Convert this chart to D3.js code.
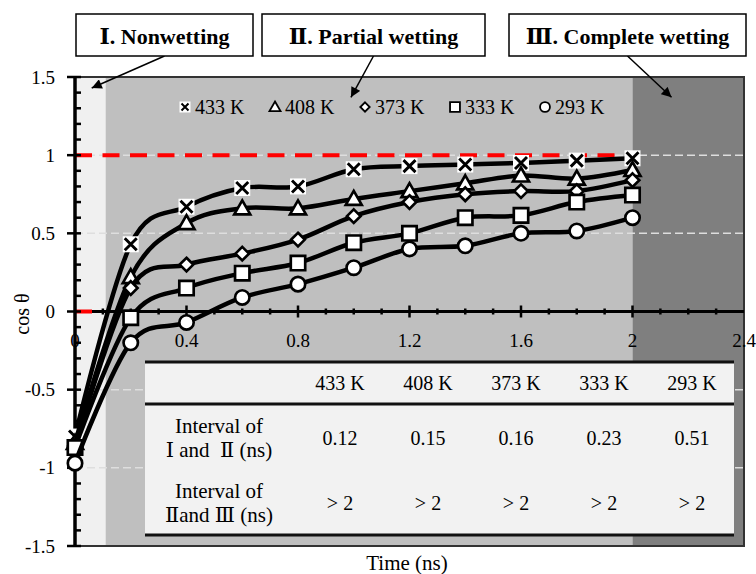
<!DOCTYPE html>
<html>
<head>
<meta charset="utf-8">
<script src="https://cdn.jsdelivr.net/npm/d3@7"></script>
<style>
body { margin: 0; background: #fff; }
text { font-family: "Liberation Serif", "DejaVu Serif", serif; }
</style>
</head>
<body>
<script>
// data
var times = [0, 0.2, 0.4, 0.6, 0.8, 1.0, 1.2, 1.4, 1.6, 1.8, 2.0];
var k433 = [-0.80, 0.43, 0.67, 0.79, 0.80, 0.91, 0.93, 0.94, 0.95, 0.965, 0.98];
var k408 = [-0.84, 0.22, 0.565, 0.66, 0.66, 0.72, 0.77, 0.82, 0.87, 0.85, 0.905];
var k373 = [-0.86, 0.15, 0.30, 0.37, 0.46, 0.61, 0.70, 0.75, 0.77, 0.77, 0.84];
var k333 = [-0.87, -0.04, 0.15, 0.245, 0.31, 0.44, 0.50, 0.60, 0.615, 0.70, 0.745];
var k293 = [-0.97, -0.20, -0.07, 0.09, 0.175, 0.28, 0.40, 0.42, 0.50, 0.515, 0.60];

var seriesNames = ["433 K", "408 K", "373 K", "333 K", "293 K"];
var seriesShapes = ["x", "triangle", "diamond", "square", "circle"];
var seriesValues = [k433, k408, k373, k333, k293];

var xTicks = [0, 0.4, 0.8, 1.2, 1.6, 2, 2.4];
var yTicks = [-1.5, -1, -0.5, 0, 0.5, 1, 1.5];
var gridVals = [-1, -0.5, 0.5, 1];

var zoneEdges = [0, 0.11, 2, 2.4];
var zoneColors = ["#f0f0f0", "#bfbfbf", "#7f7f7f"];
var zoneNames = ["\u2160. Nonwetting", "\u2161. Partial wetting", "\u2162. Complete wetting"];
var arrowTips = [[0.06, 1.43], [0.99, 1.37], [2.14, 1.37]];

var refLines = [[0, 2, 1], [0, 0.065, 0]];

var tableRowLabels = [["Interval of", "\u2160 and  \u2161 (ns)"], ["Interval of", "\u2161and \u2162 (ns)"]];
var intervalOneTwo = ["0.12", "0.15", "0.16", "0.23", "0.51"];
var intervalTwoThree = ["> 2", "> 2", "> 2", "> 2", "> 2"];

var W = 756, H = 574;
var svg = d3.select("body").append("svg").attr("width", W).attr("height", H);

var x = d3.scaleLinear().domain([0, 2.4]).range([75, 744]);
var y = d3.scaleLinear().domain([-1.5, 1.5]).range([546, 77]);

// arrow head
svg.append("defs").append("marker")
    .attr("id", "head")
    .attr("viewBox", "0 0 10 10")
    .attr("refX", 10).attr("refY", 5)
    .attr("markerWidth", 11).attr("markerHeight", 10)
    .attr("markerUnits", "userSpaceOnUse")
    .attr("orient", "auto")
    .append("path").attr("d", "M0,0L10,5L0,10Z").attr("fill", "#000");

// background zones
svg.selectAll("rect.zone")
    .data(zoneColors)
    .enter()
    .append("rect")
    .attr("class", "zone")
    .attr("x", function(d, i) { return x(zoneEdges[i]); })
    .attr("width", function(d, i) { return x(zoneEdges[i + 1]) - x(zoneEdges[i]); })
    .attr("y", y(1.5))
    .attr("height", y(-1.5) - y(1.5))
    .attr("fill", function(d) { return d; });

// grid
svg.selectAll("line.grid")
    .data(gridVals)
    .enter()
    .append("line")
    .attr("x1", x(0)).attr("x2", x(2.4))
    .attr("y1", function(d) { return y(d); })
    .attr("y2", function(d) { return y(d); })
    .attr("stroke", "#dedede")
    .attr("stroke-width", 1.5)
    .attr("stroke-dasharray", "8,4");

// plot border
svg.append("rect")
    .attr("x", x(0)).attr("y", y(1.5))
    .attr("width", x(2.4) - x(0)).attr("height", y(-1.5) - y(1.5))
    .attr("fill", "none")
    .attr("stroke", "#333")
    .attr("stroke-width", 2);

// table
var tbl = svg.append("g");
var tblLeft = 145, tblRight = 734, tblTop = 362, tblHead = 404, tblBottom = 535;
var colX = [219, 340, 428, 516, 604, 692];
tbl.append("rect")
    .attr("x", tblLeft).attr("y", tblTop)
    .attr("width", tblRight - tblLeft).attr("height", tblBottom - tblTop)
    .attr("fill", "#f2f2f2");
[tblTop, tblHead, tblBottom].forEach(function(yy) {
    tbl.append("line")
        .attr("x1", tblLeft).attr("x2", tblRight)
        .attr("y1", yy).attr("y2", yy)
        .attr("stroke", "#111").attr("stroke-width", 3);
});
tbl.selectAll("text.head")
    .data(seriesNames)
    .enter()
    .append("text")
    .attr("x", function(d, i) { return colX[i + 1]; })
    .attr("y", 383)
    .attr("dy", "0.35em")
    .attr("text-anchor", "middle")
    .attr("font-size", 20)
    .text(function(d) { return d; });
[intervalOneTwo, intervalTwoThree].forEach(function(row, r) {
    var cy = r == 0 ? 438 : 503;
    tbl.append("text")
        .attr("x", colX[0]).attr("y", cy - 12).attr("dy", "0.35em")
        .attr("text-anchor", "middle").attr("font-size", 21)
        .text(tableRowLabels[r][0]);
    tbl.append("text")
        .attr("x", colX[0]).attr("y", cy + 12).attr("dy", "0.35em")
        .attr("text-anchor", "middle").attr("font-size", 21)
        .attr("xml:space", "preserve")
        .text(tableRowLabels[r][1]);
    tbl.selectAll("text.v" + r)
        .data(row)
        .enter()
        .append("text")
        .attr("x", function(d, i) { return colX[i + 1]; })
        .attr("y", cy)
        .attr("dy", "0.35em")
        .attr("text-anchor", "middle")
        .attr("font-size", 20)
        .text(function(d) { return d; });
});

// x axis at y = 0
var xAxis = svg.append("g").attr("transform", "translate(0," + y(0) + ")");
xAxis.append("line").attr("x1", x(0)).attr("x2", x(2.4)).attr("stroke", "#000").attr("stroke-width", 3);
xAxis.selectAll("line.minor")
    .data(d3.range(1, 24).map(function(i) { return i / 10; }))
    .enter()
    .append("line")
    .attr("x1", function(d) { return x(d); })
    .attr("x2", function(d) { return x(d); })
    .attr("y1", function(d) { return Math.round(d * 10) % 4 == 0 ? -6 : -3; })
    .attr("y2", function(d) { return Math.round(d * 10) % 4 == 0 ? 6 : 3; })
    .attr("stroke", "#000").attr("stroke-width", 2.5);
xAxis.selectAll("text")
    .data(xTicks)
    .enter()
    .append("text")
    .attr("x", function(d) { return x(d); })
    .attr("y", 22)
    .attr("dy", "0.71em")
    .attr("text-anchor", "middle")
    .attr("font-size", 19)
    .text(function(d) { return d; });

// reference lines
svg.selectAll("line.ref")
    .data(refLines)
    .enter()
    .append("line")
    .attr("x1", function(d) { return x(d[0]); })
    .attr("x2", function(d) { return x(d[1]); })
    .attr("y1", function(d) { return y(d[2]); })
    .attr("y2", function(d) { return y(d[2]); })
    .attr("stroke", "#ff0000")
    .attr("stroke-width", 4)
    .attr("stroke-dasharray", "17,10.5");

// y axis
var yAxis = svg.append("g").attr("transform", "translate(" + x(0) + ",0)");
yAxis.selectAll("line.t")
    .data(d3.range(-15, 16).map(function(i) { return i / 10; }))
    .enter()
    .append("line")
    .attr("y1", function(d) { return y(d); })
    .attr("y2", function(d) { return y(d); })
    .attr("x1", function(d) { return Math.round(d * 10) % 5 == 0 ? -8 : 0; })
    .attr("x2", 6)
    .attr("stroke", "#000").attr("stroke-width", 2.5);
yAxis.append("line").attr("y1", y(1.5) - 1).attr("y2", y(-1.5) + 1).attr("stroke", "#000").attr("stroke-width", 3.5);
yAxis.selectAll("text")
    .data(yTicks)
    .enter()
    .append("text")
    .attr("x", -20)
    .attr("y", function(d) { return y(d); })
    .attr("dy", "0.35em")
    .attr("text-anchor", "end")
    .attr("font-size", 19)
    .text(function(d) { return d; });

// markers
function drawMarker(g, shape, s) {
    var r = s / 2;
    if (shape == "x") {
        g.append("rect").attr("x", -r).attr("y", -r).attr("width", s).attr("height", s).attr("fill", "#fff");
        g.append("path")
            .attr("d", "M" + (-r + 2) + "," + (-r + 2) + "L" + (r - 2) + "," + (r - 2) + "M" + (r - 2) + "," + (-r + 2) + "L" + (-r + 2) + "," + (r - 2))
            .attr("stroke", "#000").attr("stroke-width", s / 5.5).attr("fill", "none");
        return;
    }
    var p;
    if (shape == "triangle") p = "M0," + (-r) + "L" + r + "," + (r * 0.75) + "L" + (-r) + "," + (r * 0.75) + "Z";
    else if (shape == "diamond") p = "M0," + (-r * 0.85) + "L" + (r * 0.85) + ",0L0," + (r * 0.85) + "L" + (-r * 0.85) + ",0Z";
    else if (shape == "square") p = "M" + (-r * 0.9) + "," + (-r * 0.9) + "h" + (s * 0.9) + "v" + (s * 0.9) + "h" + (-s * 0.9) + "Z";
    else p = d3.arc()({ innerRadius: 0, outerRadius: r * 0.9, startAngle: 0, endAngle: 2 * Math.PI });
    g.append("path").attr("d", p).attr("fill", "#fff").attr("stroke", "#000").attr("stroke-width", s / 6);
}

// series
var line = d3.line()
    .x(function(d) { return x(d[0]); })
    .y(function(d) { return y(d[1]); })
    .curve(d3.curveCardinal.tension(0));

seriesValues.forEach(function(vals, si) {
    var pts = times.map(function(t, i) { return [t, vals[i]]; });
    var g = svg.append("g");
    g.append("path")
        .attr("d", line(pts))
        .attr("fill", "none")
        .attr("stroke", "#000")
        .attr("stroke-width", 4.5);
    pts.forEach(function(p) {
        var m = g.append("g").attr("transform", "translate(" + x(p[0]) + "," + y(p[1]) + ")");
        drawMarker(m, seriesShapes[si], 16);
    });
});

// legend
var leg = svg.append("g");
seriesNames.forEach(function(name, i) {
    var lx = 185 + i * 90;
    var m = leg.append("g").attr("transform", "translate(" + lx + ",107)");
    drawMarker(m, seriesShapes[i], 11);
    leg.append("text")
        .attr("x", lx + 10).attr("y", 107).attr("dy", "0.35em")
        .attr("font-size", 20)
        .text(name);
});

// zone label boxes and arrows
var boxes = [[76, 253], [262, 485], [509, 746]];
zoneNames.forEach(function(name, i) {
    var b = boxes[i];
    var cx = (b[0] + b[1]) / 2;
    svg.append("line")
        .attr("x1", cx).attr("y1", 56)
        .attr("x2", x(arrowTips[i][0])).attr("y2", y(arrowTips[i][1]))
        .attr("stroke", "#000").attr("stroke-width", 1.5)
        .attr("marker-end", "url(#head)");
    svg.append("rect")
        .attr("x", b[0]).attr("y", 14)
        .attr("width", b[1] - b[0]).attr("height", 42)
        .attr("fill", "#fff").attr("stroke", "#000").attr("stroke-width", 1.5);
    svg.append("text")
        .attr("x", cx).attr("y", 36).attr("dy", "0.35em")
        .attr("text-anchor", "middle")
        .attr("font-size", 22)
        .attr("font-weight", "bold")
        .text(name);
});

// axis titles
svg.append("text")
    .attr("transform", "translate(22,314) rotate(-90)")
    .attr("text-anchor", "middle")
    .attr("dy", "0.35em")
    .attr("font-size", 20)
    .text("cos \u03b8");
svg.append("text")
    .attr("x", 407).attr("y", 563).attr("dy", "0.35em")
    .attr("text-anchor", "middle")
    .attr("font-size", 21)
    .text("Time (ns)");
</script>
</body>
</html>
